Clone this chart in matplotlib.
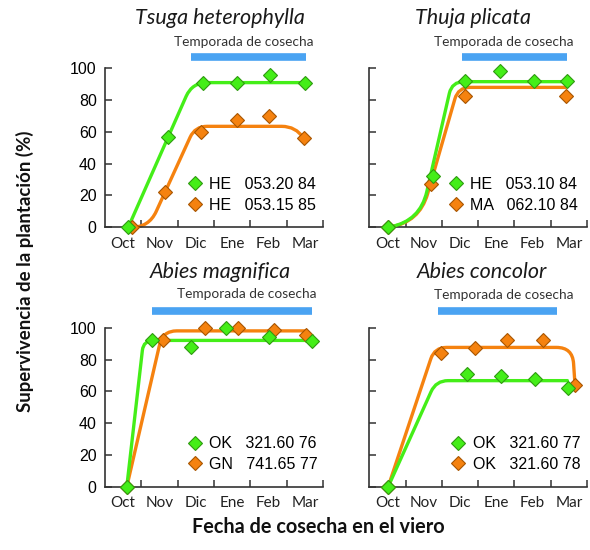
import numpy as np
import matplotlib
matplotlib.use('Agg')
import matplotlib.pyplot as plt
from matplotlib.path import Path
from matplotlib.patches import PathPatch
from matplotlib.lines import Line2D
import matplotlib.transforms as mtransforms

# meses (eje x: 0 = inicio de Oct, 6 = fin de Mar)
months = ['Oct', 'Nov', 'Dic', 'Ene', 'Feb', 'Mar']
titles = ['Tsuga heterophylla', 'Thuja plicata', 'Abies magnifica', 'Abies concolor']
lab_green = ['HE   053.20 84', 'HE   053.10 84', 'OK   321.60 76', 'OK   321.60 77']
lab_orange = ['HE   053.15 85', 'MA   062.10 84', 'GN   741.65 77', 'OK   321.60 78']

# temporada de cosecha (inicio, fin) en meses
season = [(2.37, 5.52), (2.56, 5.45), (1.28, 5.71), (1.90, 5.16)]
season_txt_x = [3.81, 3.71, 3.90, 3.71]

# puntos observados
g_x = [[0.64, 1.74, 2.71, 3.63, 4.55, 5.51],
       [0.52, 1.76, 2.65, 3.60, 4.54, 5.44],
       [0.60, 1.28, 2.38, 3.33, 4.50, 5.71],
       [0.52, 2.68, 3.62, 4.56, 5.47]]
g_y = [[0, 57, 91, 91, 96, 91],
       [0, 32, 92, 98, 92, 92],
       [0, 92, 88, 99.6, 94, 91.5],
       [0, 71, 69.5, 68, 62]]
o_x = [[0.73, 1.65, 2.63, 3.63, 4.50, 5.47],
       [0.52, 1.70, 2.64, 5.42],
       [0.60, 1.61, 2.75, 3.67, 4.64, 5.53],
       [0.52, 1.97, 2.91, 3.80, 4.79, 5.67]]
o_y = [[0, 22, 60, 67.5, 70, 56],
       [0, 27, 82.5, 82.5],
       [0, 92, 100, 100, 98.5, 95.5],
       [0, 84, 87, 92, 92, 64]]

# curvas ajustadas (vertices)
gc_x = [[0.64, 2.40, 5.51],
        [0.52, 1.40, 2.28, 5.44],
        [0.60, 1.06, 5.71],
        [0.52, 1.84, 5.46]]
gc_y = [[0, 91, 91],
        [0, 4, 91.6, 91.6],
        [0, 92, 92],
        [0, 66.7, 66.7]]
oc_x = [[0.73, 1.21, 2.48, 5.25, 5.47],
        [0.52, 1.38, 2.45, 5.42],
        [0.60, 1.59, 5.55],
        [0.52, 1.80, 5.60, 5.67]]
oc_y = [[0, 0, 63.5, 63.5, 56],
        [0, 3, 88, 88],
        [0, 98, 98],
        [0, 87.6, 87.6, 64]]

# estilo
GREEN, GREEN_E = '#44ee18', '#2f9a10'
ORANGE, ORANGE_E = '#f5820f', '#a85500'
BLUE = '#4aa3f2'
round_g = [[15], [30, 12], [10], [12]]
round_o = [[18, 12, 14], [30, 12], [14], [12, 16]]

axes_pos = [[105, 68.3, 323, 227.3], [369.3, 68.3, 587, 227.3],
            [105, 327.7, 323, 486.7], [369.3, 327.7, 587, 486.7]]
bar_y = [1.073, 1.073, 1.107, 1.107]
txt_y = [1.163, 1.163, 1.21, 1.205]
title_xy = [(0.528, 1.314), (0.478, 1.314), (0.528, 1.352), (0.516, 1.352)]
leg_xy = [(0.413, 0.205), (0.398, 0.205), (0.413, 0.204), (0.409, 0.204)]

W, H = 590, 550
fig = plt.figure(figsize=(W / 100, H / 100), dpi=100)


def rounded_path(ax, xs, ys, radii):
    pts = ax.transData.transform(np.column_stack([xs, ys]))
    verts = [pts[0]]
    codes = [Path.MOVETO]
    n = len(pts)
    for i in range(1, n - 1):
        a, v, b = pts[i - 1], pts[i], pts[i + 1]
        la = np.hypot(*(a - v))
        lb = np.hypot(*(b - v))
        ca = 1.0 if i - 1 == 0 else 0.5
        cb = 1.0 if i + 1 == n - 1 else 0.5
        r = min(radii[i - 1], la * ca, lb * cb)
        verts += [v + (a - v) * r / la, v, v + (b - v) * r / lb]
        codes += [Path.LINETO, Path.CURVE3, Path.CURVE3]
    verts.append(pts[-1])
    codes.append(Path.LINETO)
    verts = ax.transData.inverted().transform(np.array(verts))
    return Path(verts, codes)


for k in range(4):
    x0, y0, x1, y1 = axes_pos[k]
    ax = fig.add_axes([x0 / W, 1 - y1 / H, (x1 - x0) / W, (y1 - y0) / H])
    ax.set_xlim(0, 6)
    ax.set_ylim(0, 100)
    for s in ['top', 'right']:
        ax.spines[s].set_visible(False)
    for s in ['left', 'bottom']:
        ax.spines[s].set_color('#333333')
        ax.spines[s].set_linewidth(1.2)

    ax.set_xticks(np.arange(6) + 0.5)
    ax.set_xticklabels(months, family='Lato', fontsize=11, color='#222222')
    ax.set_xticks(np.arange(1, 7), minor=True)
    ax.tick_params(axis='x', which='major', length=0, pad=7)
    ax.tick_params(axis='x', which='minor', direction='in', length=5, width=1.1, color='#333333')
    ax.set_yticks(np.arange(0, 101, 20))
    ax.tick_params(axis='y', direction='in', length=5, width=1.1, color='#333333', pad=6,
                   labelleft=(k % 2 == 0))
    for t in ax.get_yticklabels():
        t.set_family('Liberation Sans')
        t.set_fontsize(11.5)

    p = rounded_path(ax, oc_x[k], oc_y[k], round_o[k])
    ax.add_patch(PathPatch(p, fill=False, edgecolor=ORANGE, lw=2.4, zorder=2, clip_on=False,
                           capstyle='round'))
    p = rounded_path(ax, gc_x[k], gc_y[k], round_g[k])
    ax.add_patch(PathPatch(p, fill=False, edgecolor=GREEN, lw=2.4, zorder=3, clip_on=False,
                           capstyle='round'))

    ax.plot(o_x[k], o_y[k], 'D', ms=7, mfc=ORANGE, mec=ORANGE_E, mew=0.8, zorder=4, clip_on=False)
    ax.plot(g_x[k], g_y[k], 'D', ms=7, mfc=GREEN, mec=GREEN_E, mew=0.8, zorder=5, clip_on=False)

    tr = mtransforms.blended_transform_factory(ax.transData, ax.transAxes)
    ax.plot(season[k], [bar_y[k], bar_y[k]], color=BLUE, lw=5.5, solid_capstyle='butt',
            transform=tr, clip_on=False)
    ax.text(season_txt_x[k], txt_y[k], 'Temporada de cosecha', transform=tr, ha='center',
            va='center', family='Lato', fontsize=9.8, color='#333333')
    ax.text(title_xy[k][0], title_xy[k][1], titles[k], transform=ax.transAxes, ha='center',
            va='center', family='Lato', style='italic', fontsize=15.5, color='#1a1a1a')

    hg = Line2D([], [], ls='none', marker='D', ms=7, mfc=GREEN, mec=GREEN_E, mew=0.8)
    ho = Line2D([], [], ls='none', marker='D', ms=7, mfc=ORANGE, mec=ORANGE_E, mew=0.8)
    leg = ax.legend([hg, ho], [lab_green[k], lab_orange[k]], loc='center left',
                    bbox_to_anchor=(leg_xy[k][0] - 0.03, leg_xy[k][1]), frameon=False,
                    handlelength=0.8, handletextpad=0.5, labelspacing=0.35, borderpad=0,
                    borderaxespad=0, prop={'family': 'Liberation Sans', 'size': 11.5})

fig.text(25 / W, 1 - 271 / H, 'Supervivencia de la plantación (%)', rotation=90,
         ha='center', va='center', family='Lato', weight='bold', fontsize=13.4, color='#111111')
fig.text(318 / W, 1 - 527 / H, 'Fecha de cosecha en el viero', ha='center', va='center',
         family='Lato', weight='bold', fontsize=14.3, color='#111111')

fig.savefig('out.png', dpi=100)
